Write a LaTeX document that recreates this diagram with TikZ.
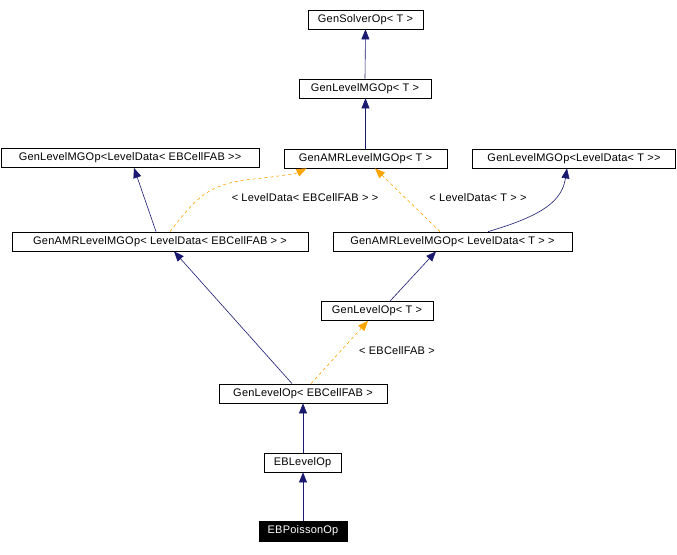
\documentclass[tikz,border=0pt]{standalone}
\usepackage{fontspec}
\setmainfont{Liberation Sans}[Ligatures=TeXOff, LetterSpace=2]
\usetikzlibrary{arrows.meta}
\definecolor{navy}{HTML}{191970}
\definecolor{orng}{HTML}{FFA500}
\begin{document}
\begin{tikzpicture}[x=1pt,y=-1pt,
  box/.style={draw=black, fill=white, line width=0.8pt, inner sep=0pt, minimum height=19pt, font=\fontsize{11}{13}\selectfont},
  inh/.style={draw=navy, line width=0.6pt, -{Triangle[length=10pt,width=8pt]}, navy},
  tmpl/.style={draw=orng, line width=0.6pt, dash pattern=on 3pt off 3pt, -{Triangle[length=10pt,width=8pt]}, orng},
  lbl/.style={font=\fontsize{11}{13}\selectfont, inner sep=1pt}]
\useasboundingbox (0,0) rectangle (677,554);
\fill[white] (0,0) rectangle (677,554);
\node[box, minimum width=115pt] (solver) at (365.5,19.5) {GenSolverOp< T >};
\node[box, minimum width=132pt] (lmgT) at (365,88.5) {GenLevelMGOp< T >};
\node[box, minimum width=258pt] (lmgEB) at (130,158) {GenLevelMGOp<LevelData< EBCellFAB >>};
\node[box, minimum width=163pt] (amrT) at (365.5,158.5) {GenAMRLevelMGOp< T >};
\node[box, minimum width=203pt] (lmgLDT) at (574,158.5) {GenLevelMGOp<LevelData< T >>};
\node[box, minimum width=296pt] (amrEB) at (160,241.5) {GenAMRLevelMGOp< LevelData< EBCellFAB > >};
\node[box, minimum width=239pt] (amrLDT) at (452.5,241.5) {GenAMRLevelMGOp< LevelData< T > >};
\node[box, minimum width=112pt] (glT) at (377,311) {GenLevelOp< T >};
\node[box, minimum width=168pt] (glEB) at (303,393.5) {GenLevelOp< EBCellFAB >};
\node[box, minimum width=77pt] (ebl) at (302.5,462.5) {EBLevelOp};
\node[box, minimum width=88pt, minimum height=20pt, fill=black, text=white] (pois) at (303,531) {EBPoissonOp};

\draw[inh] (lmgT.north) -- (solver.south);
\draw[inh] (amrT.north) -- (amrT.north |- lmgT.south);
\draw[inh] ([xshift=-4pt]amrEB.north) -- ([xshift=4pt]lmgEB.south);
\draw[tmpl] ([xshift=10pt]amrEB.north) .. controls (195,200) and (205,186) .. (245,180) .. controls (280,176) and (295,174) .. ([xshift=-59pt]amrT.south);
\node[lbl] (l1) at (305,198) {< LevelData< EBCellFAB > >};
\draw[tmpl] ([xshift=-12.5pt]amrLDT.north) -- ([xshift=9.5pt]amrT.south);
\node[lbl] (l2) at (478,198) {< LevelData< T > >};
\draw[inh] ([xshift=35.5pt]amrLDT.north) .. controls (545,215) and (562,200) .. ([xshift=-7pt]lmgLDT.south);
\draw[inh] ([xshift=13pt]glT.north) -- ([xshift=-16.5pt]amrLDT.south);
\draw[inh] ([xshift=-11pt]glEB.north) -- ([xshift=14pt]amrEB.south);
\draw[tmpl] ([xshift=8pt]glEB.north) -- ([xshift=-9pt]glT.south);
\node[lbl] (l3) at (397,351) {< EBCellFAB >};
\draw[inh] (ebl.north -| glEB.south) -- (glEB.south);
\draw[inh] (pois.north) -- (pois.north |- ebl.south);
\end{tikzpicture}
\end{document}
